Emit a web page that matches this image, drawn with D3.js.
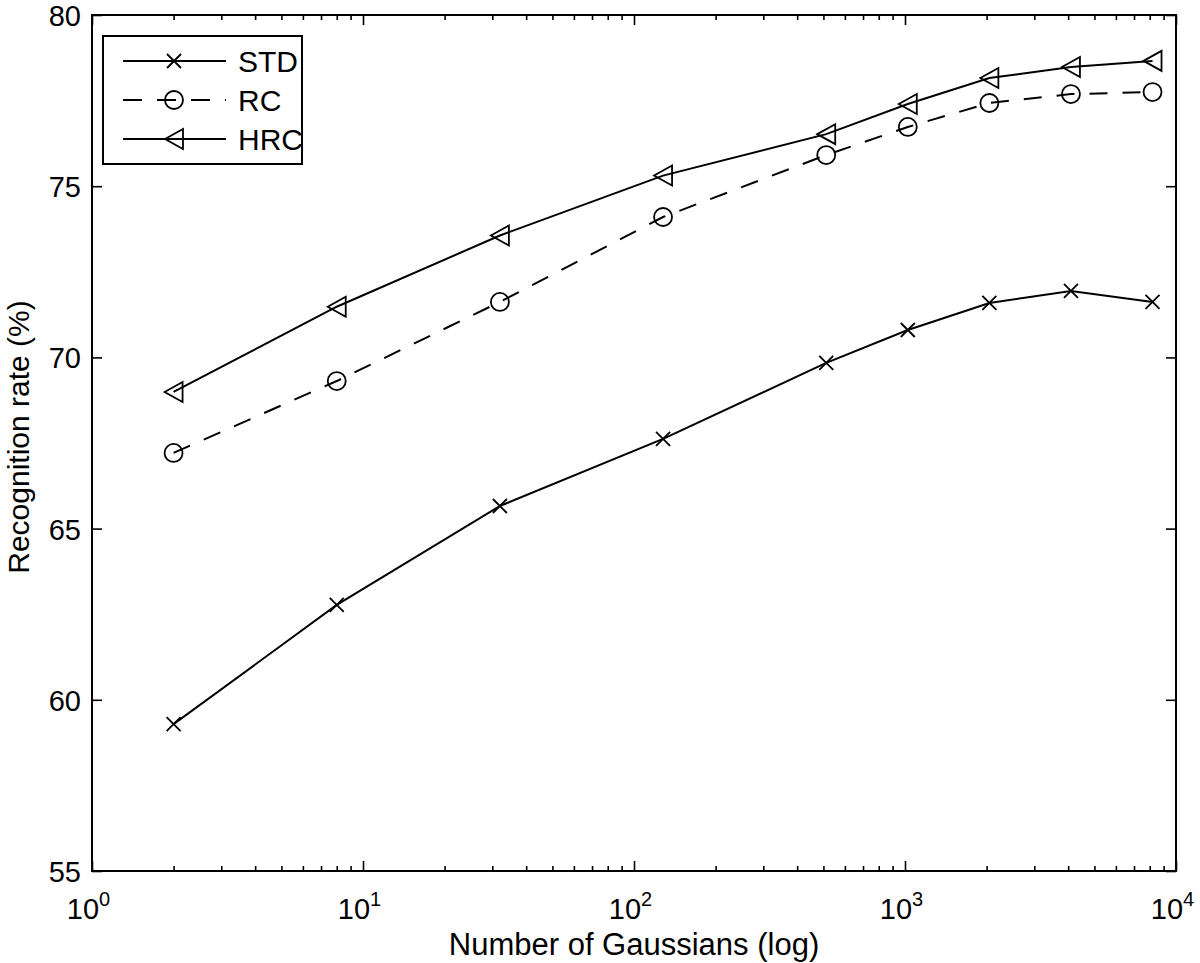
<!DOCTYPE html>
<html>
<head>
<meta charset="utf-8">
<script src="https://cdn.jsdelivr.net/npm/d3@7"></script>
<style>
  html, body { margin: 0; padding: 0; background: #fff; }
  svg { display: block; }
  text { font-family: "Liberation Sans", Arial, Helvetica, sans-serif; fill: #000; }
</style>
</head>
<body>
<svg id="chart" width="1200" height="963"></svg>
<script>
// ---- data ----
const gaussians = [2, 8, 32, 128, 512, 1024, 2048, 4096, 8192];
const stdValues = [59.29, 62.77, 65.66, 67.62, 69.84, 70.80, 71.59, 71.94, 71.62];
const rcValues  = [67.21, 69.31, 71.62, 74.10, 75.91, 76.73, 77.43, 77.69, 77.75];
const hrcValues = [68.99, 71.48, 73.56, 75.31, 76.52, 77.40, 78.16, 78.48, 78.66];
const seriesNames = ["STD", "RC", "HRC"];
const xMajorTicks = [1, 10, 100, 1000, 10000];
const xMajorExponents = ["0", "1", "2", "3", "4"];
const yTicks = [55, 60, 65, 70, 75, 80];
const xLabel = "Number of Gaussians (log)";
const yLabel = "Recognition rate (%)";

// ---- layout ----
const L = 92, R = 1176, T = 15, B = 871;
const svg = d3.select("#chart");
const x = d3.scaleLog().domain([1, 10000]).range([L, R]);
const y = d3.scaleLinear().domain([55, 80]).range([B, T]);

const minorTicks = [];
for (let d = 1; d < 10000; d *= 10) for (let k = 2; k <= 9; k++) minorTicks.push(d * k);

function styleAxis(g) {
  g.select(".domain").remove();
  g.selectAll(".tick line").attr("stroke", "#000").attr("stroke-width", 1.6);
}

// minor ticks bottom/top
svg.append("g").attr("transform", `translate(0,${B})`)
  .call(d3.axisBottom(x).tickValues(minorTicks).tickSize(-5).tickFormat(""))
  .call(styleAxis);
svg.append("g").attr("transform", `translate(0,${T})`)
  .call(d3.axisTop(x).tickValues(minorTicks).tickSize(-5).tickFormat(""))
  .call(styleAxis);
// major ticks bottom/top
const xAxisG = svg.append("g").attr("transform", `translate(0,${B})`)
  .call(d3.axisBottom(x).tickValues(xMajorTicks).tickSize(-10).tickFormat(""))
  .call(styleAxis);
svg.append("g").attr("transform", `translate(0,${T})`)
  .call(d3.axisTop(x).tickValues(xMajorTicks).tickSize(-10).tickFormat(""))
  .call(styleAxis);
// custom power-of-ten labels
xAxisG.selectAll(".tick").each(function(d, i) {
  const t = d3.select(this).append("text")
    .attr("x", -4).attr("y", 48)
    .attr("text-anchor", "middle")
    .attr("font-size", 29);
  t.append("tspan").text("10");
  t.append("tspan").attr("font-size", 20).attr("dy", -13).text(xMajorExponents[i]);
});

// y axes
svg.append("g").attr("transform", `translate(${L},0)`)
  .call(d3.axisLeft(y).tickValues(yTicks).tickSize(-10).tickPadding(11).tickFormat(d3.format("d")))
  .call(styleAxis)
  .call(g => g.selectAll(".tick text").attr("font-size", 29).attr("dy", "0.36em"));
svg.append("g").attr("transform", `translate(${R},0)`)
  .call(d3.axisRight(y).tickValues(yTicks).tickSize(-10).tickFormat(""))
  .call(styleAxis);

// frame
svg.append("rect").attr("x", L).attr("y", T).attr("width", R - L).attr("height", B - T)
  .attr("fill", "none").attr("stroke", "#000").attr("stroke-width", 2);

// axis labels
svg.append("text").attr("x", (L + R) / 2).attr("y", 955).attr("text-anchor", "middle")
  .attr("font-size", 31).text(xLabel);
svg.append("text").attr("transform", `translate(29,${(T + B) / 2 - 6}) rotate(-90)`)
  .attr("text-anchor", "middle").attr("font-size", 30).text(yLabel);

// ---- series ----
const line = d3.line().x(d => x(d[0])).y(d => y(d[1]));
const series = [
  { name: seriesNames[0], values: stdValues, dash: null, marker: "x" },
  { name: seriesNames[1], values: rcValues, dash: "18,15", marker: "o" },
  { name: seriesNames[2], values: hrcValues, dash: null, marker: "<" }
];

function drawMarker(g, type, cx, cy) {
  if (type === "x") {
    const s = 7;
    g.append("path").attr("d", `M${cx - s},${cy - s}L${cx + s},${cy + s}M${cx - s},${cy + s}L${cx + s},${cy - s}`)
      .attr("stroke", "#000").attr("stroke-width", 1.8).attr("fill", "none");
  } else if (type === "o") {
    g.append("circle").attr("cx", cx).attr("cy", cy).attr("r", 9)
      .attr("stroke", "#000").attr("stroke-width", 1.8).attr("fill", "none");
  } else {
    g.append("path").attr("d", `M${cx - 9},${cy}L${cx + 9},${cy - 10}L${cx + 9},${cy + 10}Z`)
      .attr("stroke", "#000").attr("stroke-width", 1.8).attr("fill", "none");
  }
}

series.forEach(s => {
  const pts = gaussians.map((g, i) => [g, s.values[i]]);
  svg.append("path").datum(pts).attr("d", line)
    .attr("fill", "none").attr("stroke", "#000").attr("stroke-width", 2)
    .attr("stroke-dasharray", s.dash);
  const mg = svg.append("g");
  pts.forEach(p => drawMarker(mg, s.marker, x(p[0]), y(p[1])));
});

// ---- legend ----
const lg = svg.append("g");
lg.append("rect").attr("x", 103).attr("y", 36).attr("width", 199).attr("height", 128)
  .attr("fill", "#fff").attr("stroke", "#000").attr("stroke-width", 2);
series.forEach((s, i) => {
  const yy = 61 + i * 39;
  lg.append("line").attr("x1", 123).attr("x2", 226).attr("y1", yy).attr("y2", yy)
    .attr("stroke", "#000").attr("stroke-width", 2)
    .attr("stroke-dasharray", s.dash ? "19,15" : null);
  drawMarker(lg, s.marker, 174, yy);
  lg.append("text").attr("x", 238).attr("y", yy).attr("dy", "0.36em")
    .attr("font-size", 30).text(s.name);
});
</script>
</body>
</html>
